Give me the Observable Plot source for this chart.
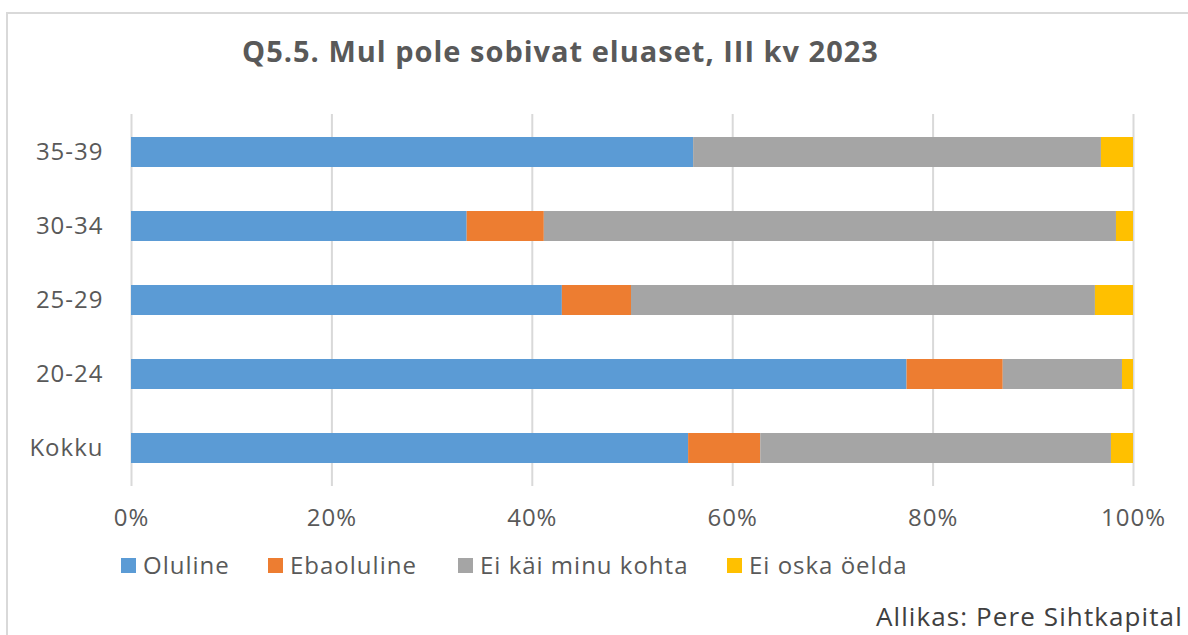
<!DOCTYPE html>
<html>
<head>
<meta charset="utf-8">
<script src="https://cdn.jsdelivr.net/npm/d3@7"></script>
<script src="https://cdn.jsdelivr.net/npm/@observablehq/plot@0.6"></script>
<style>
  html, body { margin: 0; padding: 0; background: #fff; overflow: hidden; }
  #wrap { position: relative; width: 1188px; height: 635px; overflow: hidden; font-family: "Open Sans", sans-serif; color: #595959; }
  #frame { position: absolute; left: 6px; top: 12px; width: 1300px; height: 700px; border-left: 2px solid #d9d9d9; border-top: 2px solid #d9d9d9; box-sizing: border-box; }
  #title { position: absolute; left: 0; width: 1121px; top: 31px; text-align: center; font-weight: bold; font-size: 29px; line-height: 40px; letter-spacing: 1px; color: #595959; }
  #chart { position: absolute; left: 0; top: 0; }
  #legend { position: absolute; top: 549px; left: 0; width: 1188px; height: 32px; font-size: 24px; letter-spacing: 1px; }
  .li { position: absolute; top: 0; height: 32px; line-height: 32px; white-space: nowrap; }
  .sw { position: absolute; top: 9px; width: 15px; height: 15px; }
  .lt { position: absolute; top: 0; }
  #caption { position: absolute; left: 876px; top: 600px; font-size: 26px; line-height: 32px; color: #404040; white-space: nowrap; letter-spacing: 1.1px; }
</style>
</head>
<body>
<div id="wrap">
  <div id="frame"></div>
  <div id="chart"></div>
  <div id="title">Q5.5. Mul pole sobivat eluaset, III kv 2023</div>
  <div id="legend"></div>
  <div id="caption">Allikas: Pere Sihtkapital</div>
</div>
<script>
const categories = ["35-39", "30-34", "25-29", "20-24", "Kokku"];
const seriesNames = ["Oluline", "Ebaoluline", "Ei käi minu kohta", "Ei oska öelda"];
const colors = ["#5B9BD5", "#ED7D31", "#A5A5A5", "#FFC000"];
const oluline = [56.1, 33.5, 43.0, 77.4, 55.6];
const ebaoluline = [0.0, 7.7, 6.9, 9.6, 7.2];
const eiKai = [40.7, 57.1, 46.3, 11.9, 35.0];
const eiOska = [3.2, 1.7, 3.8, 1.1, 2.2];
const xTicks = [0, 20, 40, 60, 80, 100];
const legendSwatchX = [121, 268, 458, 727];

const seriesValues = [oluline, ebaoluline, eiKai, eiOska];
const rows = [];
categories.forEach((c, i) => {
  seriesNames.forEach((s, j) => {
    rows.push({ group: c, series: s, value: seriesValues[j][i] });
  });
});

const chart = Plot.plot({
  width: 1188,
  height: 545,
  marginLeft: 131,
  marginRight: 55,
  marginTop: 114,
  marginBottom: 59,
  style: { fontFamily: "'Open Sans', sans-serif", fontSize: "24px", color: "#595959", background: "transparent", letterSpacing: "1px" },
  x: { domain: [0, 100], ticks: xTicks, tickFormat: d => d + "%", label: null },
  y: { domain: categories, paddingInner: 0.6, paddingOuter: 0.3, label: null },
  color: { domain: seriesNames, range: colors },
  marks: [
    Plot.gridX(xTicks, { stroke: "#d9d9d9", strokeOpacity: 1, strokeWidth: 2 }),
    Plot.barX(rows, Plot.stackX({ x: "value", y: "group", fill: "series", order: seriesNames })),
    Plot.axisX(xTicks, { tickSize: 0, tickPadding: 22, fill: "#595959", tickFormat: d => d + "%", label: null }),
    Plot.axisY({ tickSize: 0, tickPadding: 28, fill: "#595959", label: null })
  ]
});
document.getElementById("chart").appendChild(chart);

const legend = document.getElementById("legend");
seriesNames.forEach((s, j) => {
  const item = document.createElement("div");
  item.className = "li";
  item.style.left = legendSwatchX[j] + "px";
  const sw = document.createElement("span");
  sw.className = "sw";
  sw.style.left = "0px";
  sw.style.background = colors[j];
  const t = document.createElement("span");
  t.className = "lt";
  t.style.left = "22px";
  t.textContent = s;
  item.appendChild(sw);
  item.appendChild(t);
  legend.appendChild(item);
});
</script>
</body>
</html>
